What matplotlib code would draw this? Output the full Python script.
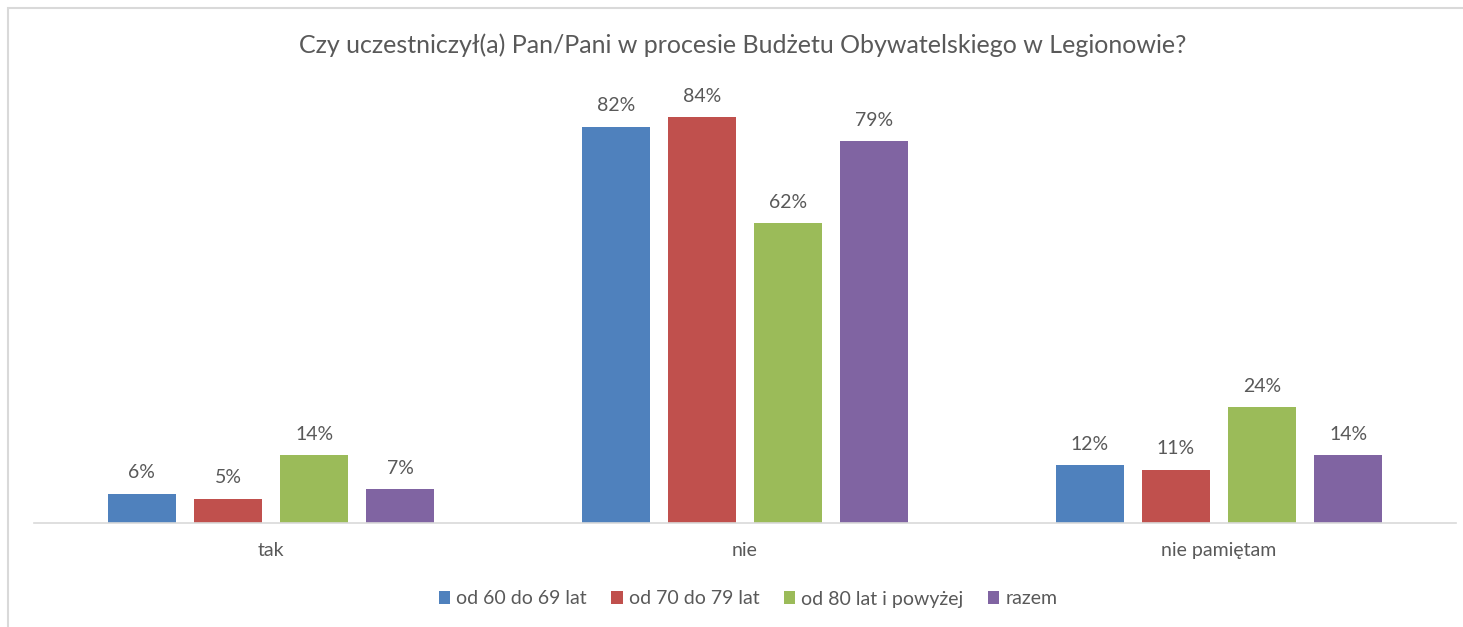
"""Clustered bar chart: participation in Legionowo civic budget by age group."""

import matplotlib

matplotlib.use("Agg")
import matplotlib.pyplot as plt
import numpy as np
from matplotlib.patches import Rectangle

TEXT = "#595959"
AXIS = "#D9D9D9"

categories = ["tak", "nie", "nie pamiętam"]
series_names = ["od 60 do 69 lat", "od 70 do 79 lat", "od 80 lat i powyżej", "razem"]
age_60_69 = [6, 82, 12]
age_70_79 = [5, 84, 11]
age_80_plus = [14, 62, 24]
total = [7, 79, 14]
colors = ["#4F81BD", "#C0504D", "#9BBB59", "#8064A2"]

plt.rcParams.update({"font.family": ["Lato", "DejaVu Sans"], "text.color": TEXT})

W, H = 1463, 627
fig = plt.figure(figsize=(W / 100, H / 100), dpi=100, facecolor="white")

# plot area in pixel coordinates of the reference
left, right, base, top = 34, 1456, 523, 88
ax = fig.add_axes([left / W, (H - base) / H, (right - left) / W, (base - top) / H])

x = np.arange(len(categories))
width = 68 / 473.5
step = 86 / 473.5
for i, (name, values, color) in enumerate(
    zip(series_names, [age_60_69, age_70_79, age_80_plus, total], colors)
):
    bars = ax.bar(x + (i - 1.5) * step, values, width, color=color, label=name)
    ax.bar_label(bars, labels=[f"{v}%" for v in values], padding=9, fontsize=14, color=TEXT)

ax.set_xlim(-0.5, 2.5)
ax.set_ylim(0, 90)
ax.set_yticks([])
ax.set_xticks(x)
ax.set_xticklabels(categories, fontsize=14, color=TEXT)
ax.tick_params(axis="x", length=0, pad=14)
for side in ("left", "right", "top"):
    ax.spines[side].set_visible(False)
ax.spines["bottom"].set_color(AXIS)
ax.spines["bottom"].set_linewidth(1.2)
ax.set_facecolor("none")

fig.text(743 / W, 1 - 45 / H, "Czy uczestniczył(a) Pan/Pani w procesie Budżetu Obywatelskiego w Legionowie?",
         ha="center", va="center", fontsize=18, color=TEXT)

fig.legend(
    loc="center",
    bbox_to_anchor=(748 / W, 1 - 599 / H),
    ncol=4,
    frameon=False,
    fontsize=14,
    handlelength=0.6,
    handleheight=0.6,
    handletextpad=0.3,
    columnspacing=1.25,
    labelcolor=TEXT,
)

# light chart-area border
fig.patches.append(
    Rectangle((7.5 / W, -0.1), 1.5, 1 - 7.5 / H + 0.1, transform=fig.transFigure,
              fill=False, edgecolor=AXIS, linewidth=1.5)
)

fig.savefig("out.png", dpi=100, facecolor="white")
